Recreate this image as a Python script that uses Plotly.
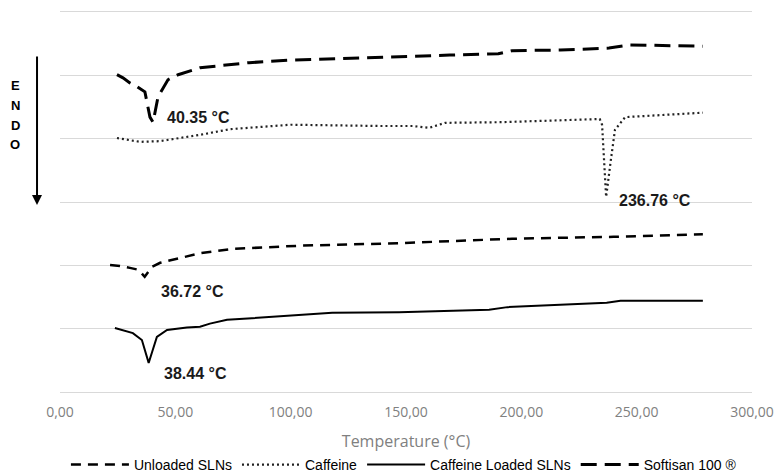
import plotly.graph_objects as go

# ---- data (temperature in °C, heat flow in arbitrary stacked units) ----
softisan_T = [24.7, 27.3, 30.3, 33.5, 36.8, 38.0, 39.0, 40.35, 42.5, 46.8, 51.2, 60.7, 82, 100, 139, 169, 190, 196, 217, 238, 247, 278.7]
softisan_y = [5.01, 4.96, 4.88, 4.82, 4.74, 4.53, 4.34, 4.26, 4.66, 4.93, 5.01, 5.12, 5.20, 5.24, 5.29, 5.32, 5.34, 5.39, 5.40, 5.43, 5.48, 5.46]

caffeine_T = [24.7, 34.7, 43, 60.7, 73.7, 100, 139, 153, 160, 167, 191, 234, 235, 236, 236.76, 238.8, 240.6, 245, 256, 278.7]
caffeine_y = [4.01, 3.95, 3.96, 4.06, 4.15, 4.22, 4.20, 4.20, 4.17, 4.25, 4.26, 4.31, 4.22, 3.66, 3.08, 3.66, 4.14, 4.34, 4.36, 4.41]

unloaded_T = [21.7, 26, 30.3, 34, 36.72, 40, 43.4, 52, 60.7, 75, 104, 147, 196, 240, 278.7]
unloaded_y = [2.005, 1.99, 1.96, 1.93, 1.82, 1.98, 2.04, 2.12, 2.19, 2.26, 2.31, 2.35, 2.42, 2.45, 2.49]

loaded_T = [23.8, 28, 31.6, 35.5, 37, 38.44, 40, 42, 46.4, 55, 60.7, 65, 72.4, 89.7, 118, 147, 186, 194, 237, 243, 278.7]
loaded_y = [1.01, 0.97, 0.93, 0.82, 0.65, 0.46, 0.64, 0.87, 0.98, 1.02, 1.03, 1.08, 1.14, 1.18, 1.25, 1.26, 1.30, 1.34, 1.41, 1.44, 1.44]

peak_labels = ["40.35 °C", "236.76 °C", "36.72 °C", "38.44 °C"]
peak_label_T = [45.5, 241.5, 42.9, 44.2]
peak_label_y = [4.33, 3.02, 1.58, 0.30]

x_ticks = [0, 50, 100, 150, 200, 250, 300]

fig = go.Figure()
fig.add_trace(go.Scatter(x=unloaded_T, y=unloaded_y, mode="lines", name="Unloaded SLNs",
                         line=dict(color="black", width=2.5, dash="10px,7px")))
fig.add_trace(go.Scatter(x=caffeine_T, y=caffeine_y, mode="lines", name="Caffeine",
                         line=dict(color="#222222", width=2.2, dash="2px,3px")))
fig.add_trace(go.Scatter(x=loaded_T, y=loaded_y, mode="lines", name="Caffeine Loaded SLNs",
                         line=dict(color="black", width=2)))
fig.add_trace(go.Scatter(x=softisan_T, y=softisan_y, mode="lines", name="Softisan 100 ®",
                         line=dict(color="black", width=3, dash="16px,8px")))

for txt, tx, ty in zip(peak_labels, peak_label_T, peak_label_y):
    fig.add_annotation(x=tx, y=ty, xref="x", yref="y", text="<b>%s</b>" % txt, showarrow=False,
                       xanchor="left", yanchor="middle",
                       font=dict(family="Liberation Sans, Arial", size=16, color="#1a1a1a"))

# ENDO arrow and letters
fig.add_annotation(x=-0.0332, y=0.492, xref="paper", yref="paper", text="", showarrow=True,
                   ax=0, ay=-150, arrowhead=2, arrowsize=1, arrowwidth=2, arrowcolor="black")
for letter, py in zip(["E", "N", "D", "O"], [85, 105, 125, 144]):
    fig.add_annotation(x=-0.065, y=(392 - py) / 380, xref="paper", yref="paper", text="<b>%s</b>" % letter,
                       showarrow=False, xanchor="center", yanchor="middle",
                       font=dict(family="Liberation Sans, Arial", size=13, color="black"))

fig.update_layout(
    width=776, height=473,
    margin=dict(l=60, r=24, t=12, b=81, autoexpand=False),
    paper_bgcolor="white", plot_bgcolor="white",
    separators=",.",
    showlegend=True,
    legend=dict(orientation="h", x=0.497, xanchor="center", y=-0.192, yanchor="middle",
                itemwidth=58,
                font=dict(family="Liberation Sans, Arial", size=14, color="black"),
                bgcolor="rgba(0,0,0,0)"),
    xaxis=dict(range=[0, 300], tickvals=x_ticks, tickformat=".2f", showgrid=False, zeroline=False,
               showline=True, linecolor="#d9d9d9", linewidth=1, mirror=True, ticks="",
               ticklabelstandoff=7,
               tickfont=dict(family="Open Sans", size=14, color="#808080"),
               title=dict(text="Temperature (°C)", font=dict(family="Open Sans", size=16, color="#808080"), standoff=16)),
    yaxis=dict(range=[0, 6], dtick=1, showticklabels=False, showgrid=True, gridcolor="#d9d9d9", gridwidth=1,
               zeroline=False, showline=False),
)

fig.write_html("out.html", config={"displayModeBar": False},
               post_script="document.body.style.margin='0';document.body.style.overflow='hidden';")
